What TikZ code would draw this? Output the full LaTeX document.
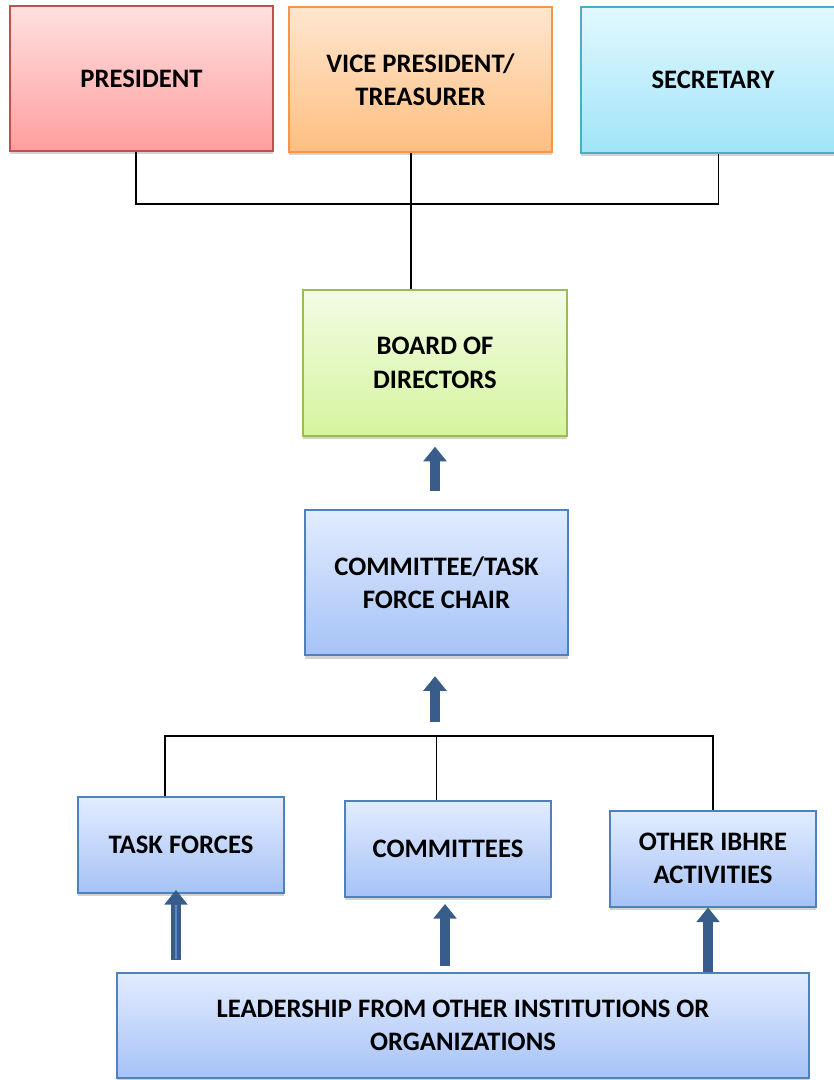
\documentclass[tikz,border=0pt]{standalone}
\usepackage{fontspec}
\setsansfont{Carlito}
\usepackage{tikz}
\usetikzlibrary{positioning, calc, arrows.meta, shadows}

\definecolor{redline}{HTML}{C0504D}
\definecolor{redtop}{HTML}{FFE0E0}
\definecolor{redbot}{HTML}{FF9E9E}
\definecolor{orangeline}{HTML}{F79646}
\definecolor{orangetop}{HTML}{FFE6CF}
\definecolor{orangebot}{HTML}{FDBF80}
\definecolor{cyanline}{HTML}{4BACC6}
\definecolor{cyantop}{HTML}{E2F8FF}
\definecolor{cyanbot}{HTML}{A0E4F8}
\definecolor{greenline}{HTML}{9BBB59}
\definecolor{greentop}{HTML}{F2FCE4}
\definecolor{greenbot}{HTML}{D6F49E}
\definecolor{blueline}{HTML}{4F81BD}
\definecolor{bluetop}{HTML}{E2ECFF}
\definecolor{bluebot}{HTML}{A6C2F6}
\definecolor{arrowblue}{HTML}{385D8A}
\definecolor{stripeblue}{HTML}{5B87C2}

\tikzset{
    orgbox/.style={draw, line width=1.5pt, rectangle, align=center,
        font=\sffamily\bfseries\fontsize{20}{25}\selectfont,
        drop shadow={shadow xshift=0pt, shadow yshift=-2.5pt, opacity=0.35}},
    redbox/.style={orgbox, draw=redline, top color=redtop, bottom color=redbot},
    orangebox/.style={orgbox, draw=orangeline, top color=orangetop, bottom color=orangebot},
    cyanbox/.style={orgbox, draw=cyanline, top color=cyantop, bottom color=cyanbot},
    greenbox/.style={orgbox, draw=greenline, top color=greentop, bottom color=greenbot},
    bluebox/.style={orgbox, draw=blueline, top color=bluetop, bottom color=bluebot},
    bigbox/.style={minimum width=197.5pt, minimum height=109pt},
    smallbox/.style={minimum width=154.5pt, minimum height=72pt},
    bus/.style={line width=1.1pt},
    uparrow/.style={draw=arrowblue, line width=7.5pt,
        -{Triangle[width=17pt, length=11pt]}}
}

\begin{document}
\begin{tikzpicture}[x=0.75pt, y=-0.75pt]
    \useasboundingbox (0,0) rectangle (834,1080);

    % Officers on top
    \node[redbox, bigbox] (pres) at (141.5,78.5) {PRESIDENT};
    \node[orangebox, bigbox] (vp) at (420.5,79.5) {VICE PRESIDENT/\\TREASURER};
    \node[cyanbox, bigbox] (sec) at (713,80) {SECRETARY};

    % Board and chair
    \node[greenbox, bigbox] (board) at (435,363) {BOARD OF\\DIRECTORS};
    \node[bluebox, bigbox] (chair) at (436.5,582.5) {COMMITTEE/TASK\\FORCE CHAIR};

    % Groups
    \node[bluebox, smallbox] (tf) at (181,845) {TASK FORCES};
    \node[bluebox, smallbox] (com) at (448,849) {COMMITTEES};
    \node[bluebox, smallbox] (oth) at (713,858.5) {OTHER IBHRE\\ACTIVITIES};

    % Leadership at the bottom
    \node[bluebox, minimum width=519pt, minimum height=79pt] (lead) at (463,1025.5)
        {LEADERSHIP FROM OTHER INSTITUTIONS OR\\ORGANIZATIONS};

    % Bus lines
    \coordinate (topbus) at (0,204);
    \coordinate (botbus) at (0,736);
    \draw[bus] ([xshift=-4pt]pres.south) -- ([xshift=-4pt]pres.south |- topbus)
        -- ([xshift=4pt]sec.south |- topbus) -- ([xshift=4pt]sec.south);
    \draw[bus] ([xshift=-7pt]vp.south) -- ([xshift=-7pt]vp.south |- board.north);
    \draw[bus] ([xshift=-12pt]tf.north) -- ([xshift=-12pt]tf.north |- botbus)
        -- (oth.north |- botbus) -- (oth.north);
    \draw[bus] (chair.south |- botbus) -- (chair.south |- com.north);

    % Arrows
    \draw[uparrow, shorten <=13.5pt, shorten >=7.5pt] (board.south |- chair.north) -- (board.south);
    \draw[uparrow, shorten <=10.5pt, shorten >=15pt] (board.south |- botbus) -- (board.south |- chair.south);
    \draw[uparrow, shorten <=9pt, shorten >=-3pt] ([xshift=-3.75pt]tf.south |- lead.north) -- ([xshift=-3.75pt]tf.south);
    \draw[stripeblue, line width=1.2pt] ([xshift=-3.75pt,yshift=10pt]tf.south |- lead.north) -- ([xshift=-3.75pt,yshift=-8pt]tf.south);
    \draw[uparrow, shorten <=4.5pt, shorten >=4.5pt] ([xshift=-2.25pt]com.south |- lead.north) -- ([xshift=-2.25pt]com.south);
    \draw[uparrow] ([xshift=-3.75pt]oth.south |- lead.north) -- ([xshift=-3.75pt]oth.south);
\end{tikzpicture}
\end{document}
